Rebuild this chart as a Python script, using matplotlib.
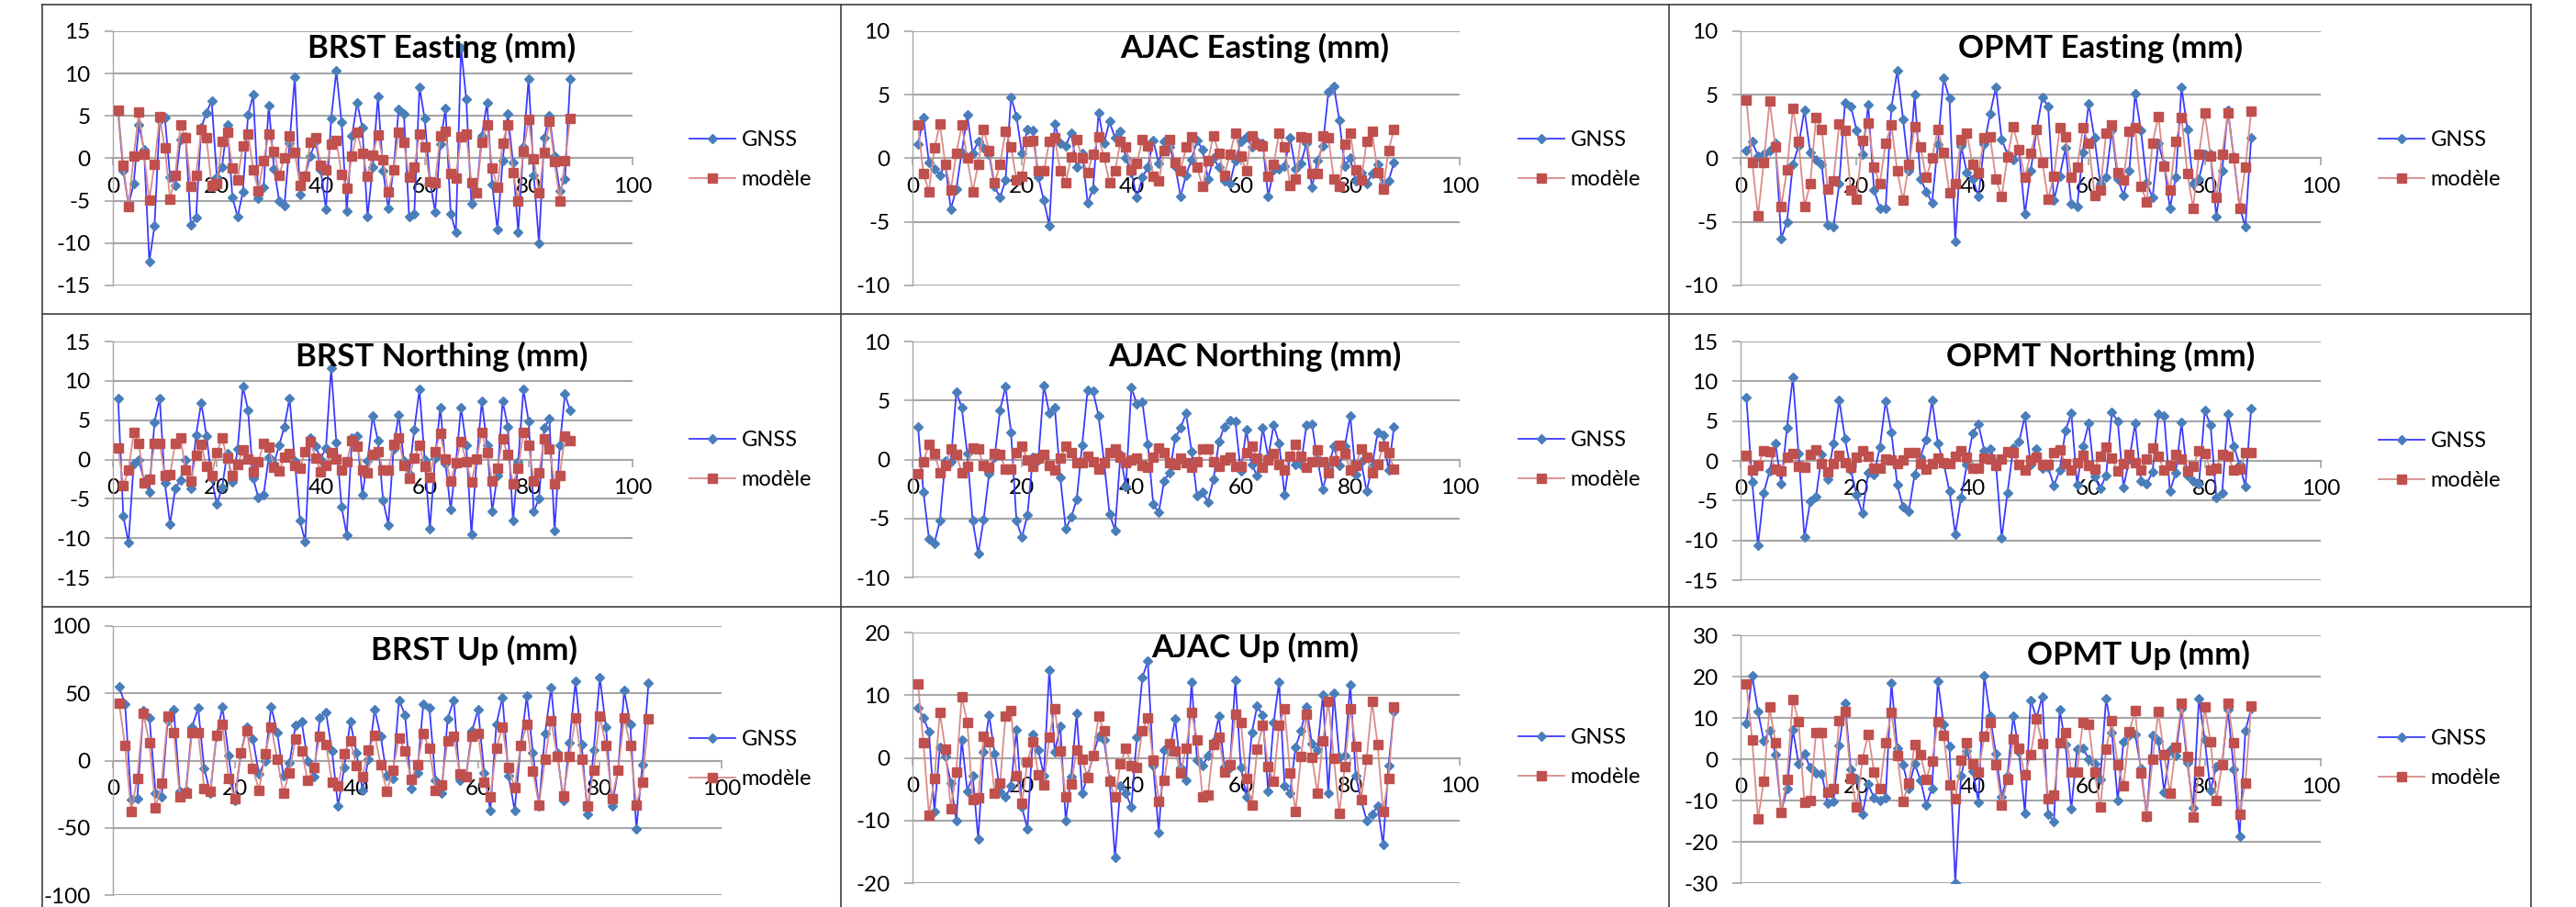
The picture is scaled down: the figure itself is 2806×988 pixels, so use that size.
import numpy as np
import matplotlib
matplotlib.use('Agg')
import matplotlib.pyplot as plt
from matplotlib.lines import Line2D

plt.rcParams['font.family'] = ['Lato', 'DejaVu Sans']
plt.rcParams['axes.unicode_minus'] = False

# Data: one value per epoch (x = 1..88)
brst_e_gnss = [5.5, -1.5, -5.5, -3, 4, 1, -12.2, -8, 4.5, 4.8, -2.2, -3.2, 2.2, 2.5, -7.9, -7, 3.6, 5.4, 6.8, -2.2,
               -1, 4, -4.6, -6.9, -4, 5.1, 7.5, -4.7, -3.4, 6.2, -1.2, -5, -5.6, 1.8, 9.6, -4.3, -2, 0.3, 2, -1.4,
               -6, 4.7, 10.3, 4.3, -6.2, 2.6, 6.6, 3.6, -6.9, -1, 7.3, -1.5, -5.9, -1.3, 5.8, 5.2, -6.9, -6.6, 8.4, 4.7,
               -2.6, -6.3, 1.7, 5.9, -6.5, -8.7, 13, 7, -5.4, -3.8, 2.6, 6.6, -3.1, -8.4, -0.3, 5.3, -0.5, -8.7, 1.3, 9.4,
               -2, -10, 2.4, 5, 0.3, -3.8, -2.4, 9.4]
brst_e_model = [5.7, -0.8, -5.7, 0.3, 5.5, 0.5, -4.9, -0.7, 4.9, 1.2, -4.8, -2.0, 4.0, 2.4, -3.3, -2.0, 3.4, 2.4, -3.2, -3.0,
                2.0, 3.1, -1.1, -2.5, 1.5, 2.9, -1.3, -3.8, -0.3, 2.9, 0.8, -2.0, 0.1, 2.6, 0.7, -3.2, -2.1, 1.9, 2.4, -0.8,
                -1.3, 1.7, 2.1, -1.9, -3.5, 0.3, 3.1, 0.6, -2.1, 0.4, 2.8, -0.2, -4.0, -1.4, 3.1, 1.9, -2.2, -1.0, 2.9, 1.4,
                -2.8, -2.9, 2.7, 3.2, -1.8, -2.3, 2.5, 2.9, -2.9, -4.1, 1.9, 4.0, -1.1, -3.4, 1.8, 3.9, -1.7, -5.0, 0.8, 4.6,
                -0.1, -4.1, 0.7, 4.4, -0.4, -5.0, -0.3, 4.7]

ajac_e_gnss = [1.1, 3.2, -0.3, -0.8, -1.3, -0.5, -4, -2.4, 0.5, 3.4, 0.4, 1.3, 0.8, 0.3, -2.2, -3.1, -1.7, 4.8, 3.3, 0.4,
               2.3, 2.2, -1.5, -3.3, -5.3, 2.7, 1.2, 1, 2, -0.7, 0.4, -3.5, -2.4, 3.6, 1.2, 2.9, 1.6, 2.1, 0, -1.1,
               -3.1, -1.5, -0.7, 1.4, -0.4, 1.3, 0.9, -0.6, -3, -1.3, -0.1, 1.4, 0.7, -1.6, 0, -0.7, -1.8, -2, -0.2, 1.3,
               1.7, 0.9, 1.3, 1.2, -3, -0.9, -0.8, -0.6, 1.6, -0.8, -0.4, 1.2, -2.3, -0.2, 1.0, 5.2, 5.7, 3, -0.6, 0,
               -1.8, -1.1, -2, -1.2, -0.5, -2, -1.8, -0.3]
ajac_e_model = [2.6, -1.2, -2.6, 0.8, 2.7, -0.5, -2.5, 0.4, 2.6, 0, -2.6, -0.5, 2.3, 0.6, -1.9, -0.5, 2.1, 0.9, -1.7, -1.4,
                1.3, 1.4, -1, -1, 1.3, 1.6, -1, -1.9, 0.1, 1.5, 0, -1.1, 0.3, 1.7, 0.1, -1.9, -1, 1.3, 0.9, -0.9,
                -0.4, 1.5, 1, -1.4, -1.8, 0.6, 1.5, -0.3, -1, 0.9, 1.7, -0.7, -2.2, -0.2, 1.8, 0.4, -1.3, 0.3, 2, 0.2,
                -1, 1.8, 1.1, 1, -1.4, -0.5, 2, 0.9, -2.1, -1.6, 1.7, 1.6, -1.2, -1.2, 1.8, 1.6, -1.6, -2.2, 1.1, 2,
                -0.9, -1.7, 1.3, 2.1, -1.1, -2.4, 0.6, 2.3]

opmt_e_gnss = [0.6, 1.3, 0.2, 0.3, 0.6, 1.2, -6.3, -5, -0.5, 1, 3.8, 0.5, -0.1, -0.5, -5.2, -5.4, -2, 4.4, 4.1, 2.2,
               0.3, 4.2, -2.5, -3.9, -3.9, 4, 6.9, 3.1, -1, 5, -1.6, -2.6, -3.5, 1.1, 6.3, 4.7, -6.5, 1, -1.1, -1.6,
               -3, 1.1, 3.5, 5.6, 1.5, 0.3, -0.1, 0.6, -4.4, -1, 2.2, 4.8, 4.1, -3.3, -1.4, 0.8, -3.6, -3.8, 0.5, 4.3,
               1.6, -2, -1.5, 2.2, -1.6, -2.9, -1, 5.1, 2.2, -1.9, -3.1, 1.2, -0.5, -3.9, -1.5, 5.6, 2.3, -2, -1.6, 0.3,
               0.3, -4.6, -1, 3.8, 0.1, -3.8, -5.4, 1.6]
opmt_e_model = [4.6, -0.3, -4.5, -0.3, 4.5, 0.9, -3.8, -0.9, 3.9, 1.3, -3.8, -2, 3.2, 2.3, -2.4, -1.8, 2.7, 2.2, -2.5, -3.2,
                1.4, 2.8, -0.7, -2, 1.2, 2.6, -1, -3.3, -0.5, 2.5, 0.9, -1.5, 0, 2.3, 0.5, -2.7, -2, 1.5, 2, -0.5,
                -1.1, 1.6, 1.7, -1.6, -3, 0.1, 2.5, 0.7, -1.5, 0.4, 2.3, -0.3, -3.2, -1.4, 2.4, 1.7, -1.5, -0.7, 2.4, 1.2,
                -2.9, -2.5, 2, 2.6, -1.1, -1.7, 2.1, 2.4, -2.2, -3.4, 1.2, 3.3, -0.6, -2.5, 1.3, 3.2, -1.2, -3.9, 0.3, 3.6,
                0.2, -3.1, 0.3, 3.6, 0, -3.9, -0.7, 3.7]

brst_n_gnss = [7.8, -7.2, -10.6, -0.5, -0.1, -2.7, -4.1, 4.7, 7.8, -3, -8.2, -3.7, -2.6, 0, -3.7, 3.1, 7.2, 3, -2.4, -5.7,
               -3.6, 0.8, -2.9, 1.3, 9.3, 6.3, -2.4, -4.9, -4.5, 0.3, -0.5, 1.8, 4.2, 7.8, -0.2, -7.8, -10.4, 2.8, 1.7, 0.1,
               1.5, 11.6, 2.2, -6, -9.6, 2.7, 3, -4.5, -0.2, 5.5, 2.4, -5.2, -8.3, 1.3, 5.7, -0.2, -1.8, 3.8, 8.9, 0,
               -8.8, 0.2, 6.6, -0.5, -6.4, -0.5, 6.6, 1.8, -9.5, -0.1, 7.4, 1.8, -6.6, -2, 7.4, 4.2, -7.8, -0.3, 8.9, 4.9,
               -6.6, -5, 4, 5.2, -9.1, 1.8, 8.3, 6.2]
brst_n_model = [1.5, -3.3, -1.4, 3.4, 2, -3, -2.5, 2, 2.1, -2.1, -1.9, 2.1, 2.8, -1.3, -2.7, 0.5, 1.9, -0.9, -2, 0.9,
                2.7, 0.2, -2.1, -0.7, 1.2, 0.1, -1.6, -0.3, 2.1, 1.6, -1, -1.5, 0.3, 0.8, -0.8, -1.1, 1, 2.3, 0.2, -1.6,
                -0.8, 0.9, 0.1, -1.4, -0.3, 2.4, 1.7, -1.3, -1.7, 0.7, 1, -1.3, -1.3, 1.9, 2.7, -0.8, -2.4, 0.2, 1.8, -0.9,
                -2.3, 1, 3.3, 0.1, -2.7, -0.4, 2.3, -0.3, -2.9, 0.1, 3.5, 0.9, -2.8, -1.1, 2.6, 0.6, -3.1, -1.1, 3.4, 1.8,
                -2.7, -1.7, 2.6, 1.4, -3.1, -2, 3, 2.4]

ajac_n_gnss = [2.8, -2.8, -6.7, -7.1, -5.2, -0.1, -0.2, 5.7, 4.4, 0.5, -5.2, -8, -5.1, -1.2, 0.2, 4.2, 6.2, 2.3, -5.2, -6.6,
               -4.7, 0.2, 0, 6.3, 3.9, 4.4, -1.5, -5.9, -4.9, -3.4, 1.2, 5.9, 5.8, 3.7, -0.2, -4.6, -6, 0.4, -2.3, 6.1,
               4.7, 4.9, 1.3, -3.8, -4.5, -1.8, -1.1, 1.8, 2.7, 3.9, 0.7, -3.1, -2.8, -3.6, -1.7, 1.5, 2.8, 3.3, 3.2, -1,
               2.5, -0.4, -1.4, 2.7, 0.2, 2.9, 1.4, -3, 0.3, -0.4, -0.4, 2.9, 3, 0, -2.5, -0.7, 1.1, -0.5, 1.1, 3.7,
               -1.3, -0.2, -2.7, -0.6, 2.3, 2.1, -0.9, 2.8]
ajac_n_model = [-1.2, -0.2, 1.3, 0.5, -1.1, -0.5, 0.9, 0.4, -1.1, -0.6, 1, 0.9, -0.5, -0.7, 0.5, 0.4, -0.8, -0.8, 0.6, 1.1,
                0, -0.6, 0.1, 0.4, -0.5, -0.9, 0.1, 1.1, 0.6, -0.3, -0.3, 0.3, -0.2, -0.8, -0.3, 0.6, 0.9, 0.2, -0.3, 0,
                0.1, -0.5, -0.7, 0.2, 1, 0.6, -0.3, -0.4, 0.1, -0.3, -0.7, -0.2, 0.9, 0.9, -0.2, -0.6, 0, 0.2, -0.6, -0.6,
                0.6, 1.1, 0.1, -0.7, 0, 0.5, -0.4, -0.9, 0.3, 1.3, 0.3, -0.7, -0.2, 0.8, -0.2, -1.1, -0.1, 1.2, 0.5, -0.9,
                -0.5, 0.9, 0.2, -1.1, -0.4, 1.1, 0.6, -0.8]

opmt_n_gnss = [8, -2.7, -10.6, -4, -1.3, 2.2, -2.9, 4.2, 10.5, 0.9, -9.6, -5.1, -4.5, 0.8, -2.3, 2.2, 7.6, 2.8, -1.2, -4.3,
               -6.6, -1.5, -1.7, 1.7, 7.5, 3.6, -3, -5.8, -6.3, -1.7, 0.5, 2.7, 7.6, 2.2, -0.3, -3.8, -9.2, -4.6, -0.5, 3.5,
               4.6, 1.3, 1.5, -0.3, -9.7, -4, 1.6, 2.4, 5.6, -0.5, 1.5, -0.9, -0.8, -3.1, -1.2, 3.8, 6, -3, 1.8, 4.7,
               -2, -3.5, -1.8, 6.1, 5, -3.3, 0.2, 4.7, -2.5, -2.9, -1.4, 5.9, 5.6, -3.8, -1.5, 4.8, -1.9, -2.5, -2.9, 6.3,
               4.5, -4.6, -4, 5.9, 1.9, -0.5, -3.2, 6.6]
opmt_n_model = [0.7, -1.1, -0.6, 1.3, 1.1, -1, -1.3, 0.5, 0.9, -0.7, -0.8, 0.8, 1.4, -0.3, -1.4, -0.3, 0.7, -0.2, -0.8, 0.5,
                1.3, 0.6, -0.9, -0.9, 0.2, 0.1, -0.4, 0.1, 1, 1, -0.3, -1, -0.4, 0.3, -0.2, -0.4, 0.6, 1.3, 0.5, -0.9,
                -0.9, 0.3, 0.2, -0.6, 0.2, 1.1, 1, -0.5, -1.1, 0.1, 0.5, -0.5, -0.5, 1, 1.4, -0.3, -1.2, -0.2, 0.7, -0.6,
                -1, 0.6, 1.7, 0.3, -1.3, -0.4, 0.8, -0.2, -1.2, 0.2, 1.6, 0.6, -1.2, -0.6, 0.8, 0.2, -1.3, -0.7, 1.3, 0.9,
                -1.1, -0.9, 0.8, 0.6, -1.2, -1, 1, 1]

brst_u_gnss = [55, 42, -29, -28, 37, 32, -24, -27, 30, 38, -23, -22, 25, 39, -6, -24, 18, 40, 4, -30,
               5, 25, 16, -10, 0, 40, 21, -11, -2, 26, 29, 0, -12, 32, 36, 7, -34, -5, 29, 6,
               -22, 1, 38, 18, -11, -13, 45, 34, -21, -9, 42, 39, -15, -24, 31, 45, -15, -12, 22, 38,
               -9, -37, 27, 47, -11, -37, 11, 48, 6, -34, 20, 54, 6, -30, 13, 59, 12, -40, 8, 62,
               25, -34, -7, 52, 27, -51, -3, 58]
brst_u_model = [43, 11, -38, -13, 35, 13, -35, -17, 33, 21, -27, -24, 21, 21, -21, -23, 19, 27, -13, -28,
                6, 22, -6, -22, 5, 25, 1, -24, -9, 16, 7, -15, -5, 18, 12, -16, -19, 5, 15, -4,
                -12, 8, 19, -3, -23, -7, 17, 7, -14, -3, 20, 9, -22, -18, 15, 18, -10, -12, 18, 20,
                -16, -27, 9, 25, -5, -20, 11, 27, -8, -33, 1, 30, 3, -26, 3, 32, 1, -34, -7, 33,
                11, -28, -7, 32, 11, -33, -16, 31]

ajac_u_gnss = [8, 6.4, 4.2, -8.5, 1.7, 0.2, -4, -10, 2.9, -5.3, -2.8, -12.9, 0.9, 6.8, 0.7, -5.4, -6.3, -4.5, 4.5, -7.9,
               -11.3, 3.7, 1.2, -2.8, 14, 0.9, 5.1, -10, -3, 7.1, -5.7, -2.9, 0.3, 3.4, 2.9, -3.5, -15.9, -4.5, -5.7, -7.8,
               3.3, 12.8, 15.4, -1.3, -11.9, 1.2, 1.1, 6.2, -1.6, -3.6, 12.1, -0.4, -1.3, 0.3, 2.5, 6.6, -1.4, -1.6, 12.4, -1.5,
               -6.2, 4, 8.3, 6.8, -5.4, 5.6, 12.1, -4.4, -5.6, 1.7, 4.3, 8.1, 2.2, 1.2, 10, -5.7, 10.3, 0.1, 0.4, 11.7,
               -2.8, -6.8, -10, -9, -7.7, -13.9, -1.2, 7.4]
ajac_u_model = [11.8, 2.4, -9.1, -3.3, 7.2, 1.4, -8.1, -2.2, 9.8, 5.7, -6.6, -6.4, 3.4, 2.6, -5.6, -4, 6.7, 7.6, -2.8, -7.2,
                -0.7, 2.6, -2.7, -4.3, 3.3, 7.9, 1.1, -6.3, -4.2, 1.2, -0.2, -3.2, 0.4, 6.6, 4.3, -3.7, -6.3, -1, 1.5, -1.2,
                -1.5, 4.3, 6.4, -0.3, -6.9, -3.6, 2.3, 1.1, -2.4, 1.6, 7.3, 2.9, -6.2, -6, 2.1, 3.3, -2.3, -1.1, 6.9, 5.7,
                -3.3, -7.6, 1.4, 5.2, -1.4, -3.7, 5.2, 7.8, -2.4, -8.6, 0.2, 6.9, 0.1, -5.6, 2.7, 9, 0, -8.8, -1.4, 7.9,
                1.9, -6.6, -0.2, 9, 2.1, -8.5, -3.3, 8.2]

opmt_u_gnss = [8.7, 20.3, 11.6, 4.4, 7, 1.2, -12.7, -7.2, 7.1, -1, 1.3, -2.1, -3.3, -3.6, -10.7, -10.3, 3.3, 13.6, -2.5, -4.6,
               -13.3, -6.1, -9.3, -10.1, -9.3, 18.5, 2.7, -1.4, -7, -1.1, -5, -11.1, -7, 18.9, 8.4, 3.2, -30, -4, 2, -2.8,
               -10.4, 20.3, 10.4, 1.3, -9.1, -3.9, 10.5, 1.7, -13.1, 14.3, 10, 15.2, -13.3, -15, 12, 3.6, -12.1, 2.4, 2.7, 0.1,
               -1, -4.8, 14.7, 6.4, -10, 4.3, 5.7, 6, -2.2, -14, 5.7, 4.5, -7.9, 2.2, 0.9, 12.3, -0.9, -11.8, 14.7, 4.6,
               -7.6, -1.7, -1, 11.9, -2.4, -18.6, 6.9, 12.2]
opmt_u_model = [18.2, 4.6, -14.4, -5.3, 12.6, 4, -12.8, -4.8, 14.5, 9.1, -10.5, -10, 6.5, 6.5, -8, -7.2, 9.4, 11.6, -4.6, -11.6,
                0, 6.1, -3, -7.2, 4, 11.4, 1, -10.2, -5.7, 3.5, 1.2, -4.8, -0.4, 9.2, 5.8, -6.2, -9.6, -0.3, 4, -1,
                -3, 5.5, 8.8, -1.3, -11.2, -4.8, 4.9, 2.6, -3.8, 1.1, 9.8, 3.8, -9.6, -8.6, 4.1, 6.4, -3, -3, 9, 8.4,
                -3, -11.6, 2.5, 9.4, -1.4, -6.4, 6.7, 11.7, -3.4, -13.7, -0.1, 11.5, 1.2, -8.3, 3, 13.5, 0.6, -14, -2.8, 12.6,
                4.2, -9.9, -1.3, 13.5, 3.9, -13.3, -5.8, 12.8]

titles = ['BRST Easting (mm)', 'AJAC Easting (mm)', 'OPMT Easting (mm)',
          'BRST Northing (mm)', 'AJAC Northing (mm)', 'OPMT Northing (mm)',
          'BRST Up (mm)', 'AJAC Up (mm)', 'OPMT Up (mm)']
series = [(brst_e_gnss, brst_e_model), (ajac_e_gnss, ajac_e_model), (opmt_e_gnss, opmt_e_model),
          (brst_n_gnss, brst_n_model), (ajac_n_gnss, ajac_n_model), (opmt_n_gnss, opmt_n_model),
          (brst_u_gnss, brst_u_model), (ajac_u_gnss, ajac_u_model), (opmt_u_gnss, opmt_u_model)]
y_ranges = [(-15, 15, 5), (-10, 10, 5), (-10, 10, 5),
            (-15, 15, 5), (-10, 10, 5), (-15, 15, 5),
            (-100, 100, 50), (-20, 20, 10), (-30, 30, 10)]
series_names = ['GNSS', 'modèle']

# layout in pixels of the 2806x988 image
W, H = 2806, 988
# plot area: left, right, top, bottom
plot_px = [(123, 689, 34, 311), (994, 1590, 34, 311), (1896, 2528, 34, 311),
           (123, 689, 372, 629), (994, 1590, 372, 629), (1896, 2528, 372, 632),
           (123, 786, 682, 975), (994, 1590, 689, 962), (1896, 2528, 692, 962)]
# title centre x and baseline y
title_px = [(481, 63), (1367, 63), (2288, 63),
            (481, 399), (1367, 399), (2288, 399),
            (516, 719), (1367, 716), (2329, 724)]
# legend: handle start x, midpoint y of the two rows
legend_px = [(751, 174), (1654, 174), (2591, 174),
             (751, 501), (1654, 501), (2591, 502),
             (751, 827), (1654, 825), (2591, 826)]

grid_col = '#a6a6a6'
fig = plt.figure(figsize=(W / 100, H / 100), dpi=100)

for i in range(9):
    l, r, t, b = plot_px[i]
    ax = fig.add_axes([l / W, 1 - b / H, (r - l) / W, (b - t) / H])
    ax.patch.set_alpha(0)
    gnss, model = series[i]
    ax.plot(np.arange(1, len(gnss) + 1), gnss, color='#3a3aff', lw=1.3,
            marker='D', ms=5, mfc='#4a7ebb', mec='#4a7ebb', label=series_names[0], zorder=3)
    ax.plot(np.arange(1, len(model) + 1), model, color='#d98c8a', lw=1.3,
            marker='s', ms=7, mfc='#c0504d', mec='#c0504d', label=series_names[1], zorder=4)
    lo, hi, step = y_ranges[i]
    ax.set_xlim(0, 100)
    ax.set_ylim(lo, hi)
    ax.set_xticks(np.arange(0, 101, 20))
    ax.set_yticks(np.arange(lo, hi + step, step))
    for s in ['top', 'right']:
        ax.spines[s].set_visible(False)
    ax.spines['left'].set_color(grid_col)
    ax.spines['left'].set_linewidth(1.0)
    ax.spines['bottom'].set_position(('data', 0))
    ax.spines['bottom'].set_color(grid_col)
    ax.spines['bottom'].set_linewidth(1.5)
    ax.yaxis.grid(True, color=grid_col, lw=1.5)
    ax.set_axisbelow(True)
    ax.tick_params(axis='y', length=6.5, width=1.2, color=grid_col, pad=11, labelsize=17.5)
    ax.tick_params(axis='x', length=5.5, width=1.2, color=grid_col, pad=9, labelsize=17.5)
    for lab in ax.get_yticklabels() + ax.get_xticklabels():
        lab.set_clip_on(False)

    cx, cy = title_px[i]
    fig.text(cx / W, 1 - cy / H, titles[i], ha='center', va='baseline',
             fontsize=25, fontweight='bold')

    lx, ly = legend_px[i]
    ax.legend(loc='center left', bbox_to_anchor=(lx / W, 1 - ly / H),
              bbox_transform=fig.transFigure, frameon=False, fontsize=17,
              handlelength=2.1, handletextpad=0.3, labelspacing=0.95,
              borderpad=0, borderaxespad=0)

# table borders around the cells
border = '#3f3f3f'
col_x = [46, 916, 1818, 2757]
row_y = [5, 342, 661]
for y in row_y:
    fig.add_artist(Line2D([col_x[0] / W, col_x[-1] / W], [1 - y / H, 1 - y / H],
                          transform=fig.transFigure, color=border, lw=1.2))
for x in col_x:
    fig.add_artist(Line2D([x / W, x / W], [1 - row_y[0] / H, 0],
                          transform=fig.transFigure, color=border, lw=1.2))

fig.savefig('out.png', dpi=100)
